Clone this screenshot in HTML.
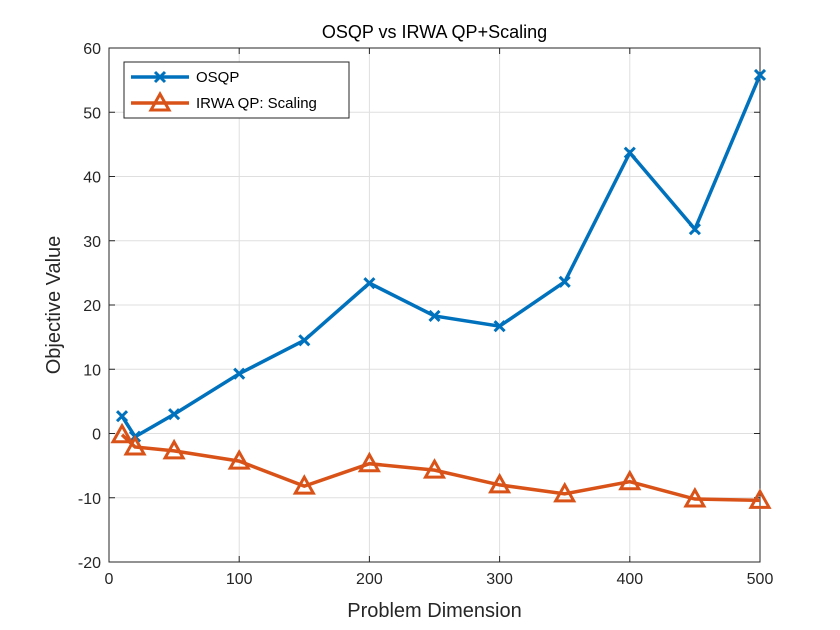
<!DOCTYPE html>
<html><head><meta charset="utf-8"><style>
html,body{margin:0;padding:0;background:#fff;}
svg{display:block;font-family:"Liberation Sans",Arial,sans-serif;}
</style></head><body>
<svg id="chart" width="840" height="630" viewBox="0 0 840 630"></svg>
<script>
const categories = [10,20,50,100,150,200,250,300,350,400,450,500];
const osqpValues = [2.7,-0.5,3.0,9.3,14.5,23.4,18.3,16.7,23.6,43.7,31.8,55.8];
const irwaValues = [-0.2,-2.1,-2.7,-4.3,-8.2,-4.7,-5.7,-8.0,-9.4,-7.5,-10.2,-10.4];
const xTicks = [0,100,200,300,400,500];
const yTicks = [-20,-10,0,10,20,30,40,50,60];

const svg = document.getElementById('chart');
const NS = 'http://www.w3.org/2000/svg';
const L=109,R=760,T=48,B=562;
const xs = v => L + (v-0)/(500-0)*(R-L);
const ys = v => B - (v+20)/(80)*(B-T);
function mk(tag, attrs, parent){const e=document.createElementNS(NS,tag);for(const k in attrs)e.setAttribute(k,attrs[k]);(parent||svg).appendChild(e);return e;}

const bg = mk('rect',{x:L,y:T,width:R-L,height:B-T,fill:'#fff'});



const grid = mk('g',{stroke:'#dfdfdf','stroke-width':1});


xTicks.forEach(t=>{mk('line',{x1:xs(t),x2:xs(t),y1:T,y2:B},grid);});
yTicks.forEach(t=>{mk('line',{x1:L,x2:R,y1:ys(t),y2:ys(t)},grid);});

const frame = mk('rect',{x:L,y:T,width:R-L,height:B-T,fill:'none',stroke:'#262626','stroke-width':1});



const ticks = mk('g',{stroke:'#262626','stroke-width':1});
xTicks.forEach(t=>{mk('line',{x1:xs(t),x2:xs(t),y1:B,y2:B-6},ticks);mk('line',{x1:xs(t),x2:xs(t),y1:T,y2:T+6},ticks);
  const tx=mk('text',{x:xs(t),y:B+22,'text-anchor':'middle','font-size':16,fill:'#262626',stroke:'none'});tx.textContent=t;
  
  });
yTicks.forEach(t=>{mk('line',{x1:L,x2:L+6,y1:ys(t),y2:ys(t)},ticks);mk('line',{x1:R,x2:R-6,y1:ys(t),y2:ys(t)},ticks);
  const tx=mk('text',{x:L-8,y:ys(t)+6,'text-anchor':'end','font-size':16,fill:'#262626',stroke:'none'});tx.textContent=t;
  
  });

const title=mk('text',{x:(L+R)/2,y:38,'text-anchor':'middle','font-size':18,fill:'#000'});title.textContent='OSQP vs IRWA QP+Scaling';


const xl=mk('text',{x:(L+R)/2,y:617,'text-anchor':'middle','font-size':20,fill:'#262626'});xl.textContent='Problem Dimension';


const yl=mk('text',{x:0,y:0,'text-anchor':'middle','font-size':20,fill:'#262626',transform:'translate(60,305) rotate(-90)'});yl.textContent='Objective Value';



function cross(g,x,y,c){mk('path',{d:`M${x-5} ${y-5}L${x+5} ${y+5}M${x-5} ${y+5}L${x+5} ${y-5}`,stroke:c,'stroke-width':3,fill:'none'},g);}
function tri(g,x,y,c){mk('path',{d:`M${x} ${y-9}L${x+9} ${y+7}L${x-9} ${y+7}Z`,stroke:c,'stroke-width':3,fill:'none','stroke-linejoin':'miter'},g);}

const s1=mk('g',{});


mk('polyline',{points:categories.map((c,i)=>xs(c)+','+ys(osqpValues[i])).join(' '),fill:'none',stroke:'#0072BD','stroke-width':3.5},s1);
categories.forEach((c,i)=>cross(s1,xs(c),ys(osqpValues[i]),'#0072BD'));

const s2=mk('g',{});


mk('polyline',{points:categories.map((c,i)=>xs(c)+','+ys(irwaValues[i])).join(' '),fill:'none',stroke:'#D95319','stroke-width':3.5},s2);
categories.forEach((c,i)=>tri(s2,xs(c),ys(irwaValues[i]),'#D95319'));

const lg=mk('g',{});


mk('rect',{x:124,y:62,width:225,height:56,fill:'#fff',stroke:'#262626','stroke-width':1},lg);
mk('line',{x1:131,x2:189,y1:77,y2:77,stroke:'#0072BD','stroke-width':3.5},lg);
cross(lg,160,77,'#0072BD');
const t1=mk('text',{x:196,y:82,'font-size':15,fill:'#000'},lg);t1.textContent='OSQP';


mk('line',{x1:131,x2:189,y1:103,y2:103,stroke:'#D95319','stroke-width':3.5},lg);
tri(lg,160,103,'#D95319');
const t2=mk('text',{x:196,y:108,'font-size':15,fill:'#000'},lg);t2.textContent='IRWA QP: Scaling';


</script>
</body></html>
